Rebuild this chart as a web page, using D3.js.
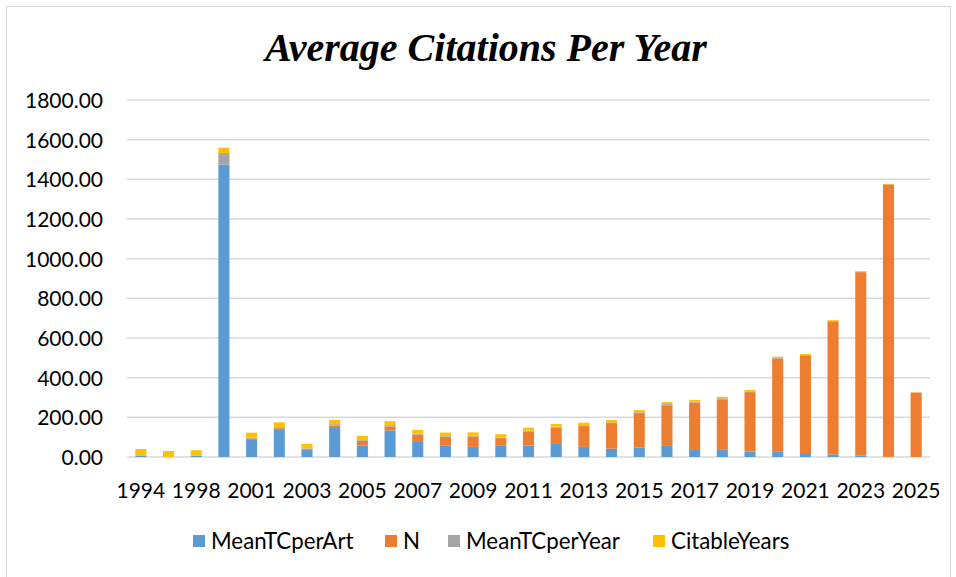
<!DOCTYPE html>
<html>
<head>
<meta charset="utf-8">
<script src="https://cdn.jsdelivr.net/npm/d3@7"></script>
<style>
  html, body { margin: 0; padding: 0; background: #ffffff; }
  svg { display: block; }
</style>
</head>
<body>
<svg id="chart" width="956" height="577"></svg>
<script>
// ---- data ----
const years = ["1994","1997","1998","2000","2001","2002","2003","2004","2005","2006","2007","2008","2009","2010","2011","2012","2013","2014","2015","2016","2017","2018","2019","2020","2021","2022","2023","2024","2025"];
const meanTCperArt = [7, 0, 5, 1475, 90, 136, 39, 146, 58, 134, 80, 59, 51, 59, 58, 70, 51, 42, 48, 56, 35, 39, 27, 29, 20, 13, 8, 0.5, 0];
const nArticles = [1, 1, 1, 1, 4, 9, 3, 13, 25, 20, 33, 43, 53, 36, 71, 78, 105, 129, 173, 205, 240, 252, 300, 466, 490, 670, 924, 1374, 325];
const meanTCperYear = [0.2, 0, 0.2, 56.7, 3.6, 5.6, 1.7, 6.6, 2.7, 6.7, 4.2, 3.3, 3.0, 3.7, 3.8, 5.0, 3.9, 3.5, 4.3, 5.6, 3.9, 4.9, 3.9, 4.8, 4.0, 3.4, 2.8, 0.3, 0];
const citableYears = [32, 29, 28, 26, 25, 24, 23, 22, 21, 20, 19, 18, 17, 16, 15, 14, 13, 12, 11, 10, 9, 8, 7, 6, 5, 4, 3, 2, 1];
const seriesNames = ["MeanTCperArt", "N", "MeanTCperYear", "CitableYears"];
const seriesColors = ["#5B9BD5", "#ED7D31", "#A5A5A5", "#FFC000"];
const yTicks = [0, 200, 400, 600, 800, 1000, 1200, 1400, 1600, 1800];
const titleText = "Average Citations Per Year";

// ---- build table ----
const table = years.map((y, i) => ({
  year: y,
  MeanTCperArt: meanTCperArt[i],
  N: nArticles[i],
  MeanTCperYear: meanTCperYear[i],
  CitableYears: citableYears[i]
}));

const svg = d3.select("#chart");
const font = "Lato, 'Open Sans', sans-serif";

// chart border
svg.append("rect")
  .attr("x", 6.5).attr("y", 6.5)
  .attr("width", 944).attr("height", 580)
  .attr("fill", "#ffffff")
  .attr("stroke", "#d9d9d9").attr("stroke-width", 1);

// title
svg.append("text")
  .attr("x", 486).attr("y", 61)
  .attr("text-anchor", "middle")
  .attr("font-family", "'Liberation Serif', 'Times New Roman', serif")
  .attr("font-weight", "bold").attr("font-style", "italic")
  .attr("font-size", 40)
  .attr("fill", "#000")
  .text(titleText);

const x = d3.scaleBand().domain(years).range([127, 930]).paddingInner(0.6).paddingOuter(0.3);
const y = d3.scaleLinear().domain([0, 1800]).range([457, 100]);

// gridlines
svg.append("g")
  .selectAll("line")
  .data(yTicks)
  .join("line")
  .attr("x1", 127).attr("x2", 930)
  .attr("y1", d => y(d)).attr("y2", d => y(d))
  .attr("stroke", "#d9d9d9").attr("stroke-width", 1.5);

// y axis labels
const yAxis = d3.axisLeft(y).tickValues(yTicks).tickFormat(d3.format(".2f")).tickSize(0).tickPadding(0);
const gy = svg.append("g").attr("transform", "translate(103,0)").call(yAxis);
gy.select(".domain").remove();
gy.selectAll("text")
  .attr("font-family", font).attr("font-size", 21).attr("fill", "#000")
  .attr("dy", "0.35em");

// stacked bars
const stack = d3.stack().keys(seriesNames);
const layers = stack(table);
svg.append("g")
  .selectAll("g")
  .data(layers)
  .join("g")
  .attr("fill", (d, i) => seriesColors[i])
  .selectAll("rect")
  .data(d => d)
  .join("rect")
  .attr("x", d => x(d.data.year))
  .attr("width", x.bandwidth())
  .attr("y", d => y(d[1]))
  .attr("height", d => Math.max(0, y(d[0]) - y(d[1])));

// x axis
const xAxis = d3.axisBottom(x)
  .tickValues(years.filter((d, i) => i % 2 === 0))
  .tickSize(0).tickPadding(0);
const gx = svg.append("g").attr("transform", "translate(0,457)").call(xAxis);
gx.select(".domain").remove();
gx.selectAll("text")
  .attr("font-family", font).attr("font-size", 21).attr("fill", "#000")
  .attr("y", 41).attr("dy", 0);

// legend
const legendX = [193, 385, 448, 653];
const legend = svg.append("g");
seriesNames.forEach((name, i) => {
  legend.append("rect")
    .attr("x", legendX[i]).attr("y", 535)
    .attr("width", 12).attr("height", 12)
    .attr("fill", seriesColors[i]);
  legend.append("text")
    .attr("x", legendX[i] + 18).attr("y", 548.5)
    .attr("font-family", font).attr("font-size", 22.3).attr("fill", "#000")
    .text(name);
});
</script>
</body>
</html>
